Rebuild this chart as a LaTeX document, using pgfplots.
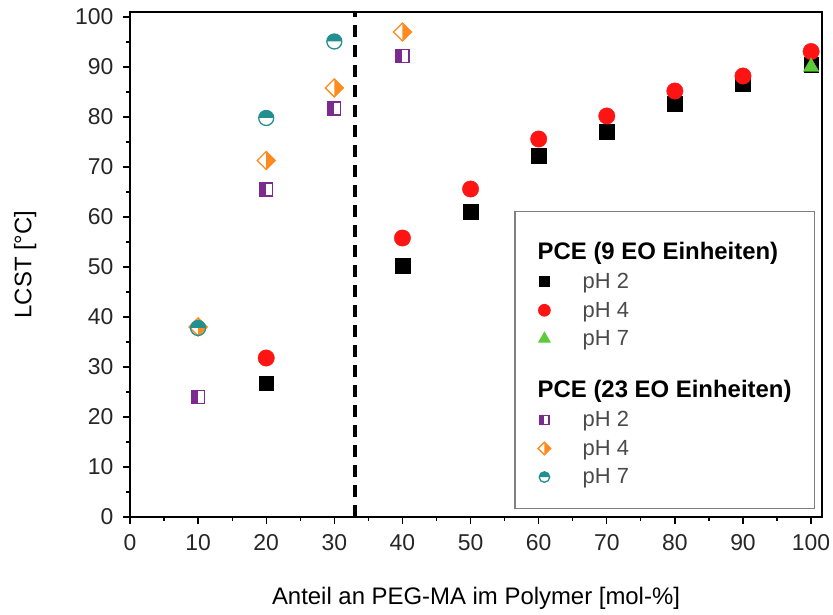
\documentclass[border=0pt]{standalone}
\usepackage{fontspec}
\setmainfont{Liberation Sans}
\usepackage{pgfplots}
\pgfplotsset{compat=1.18}

\definecolor{cpurple}{HTML}{7B2A8E}
\definecolor{corange}{HTML}{FF8A1E}
\definecolor{cteal}{HTML}{23908F}
\definecolor{cgreen}{HTML}{5BCB3A}
\definecolor{cred}{HTML}{FF1414}
\definecolor{legtext}{HTML}{4A4A4A}

% half-filled marks
\pgfdeclareplotmark{halfsquare}{%
  \pgfpathrectangle{\pgfqpoint{-\pgfplotmarksize}{-\pgfplotmarksize}}{\pgfqpoint{\pgfplotmarksize}{2\pgfplotmarksize}}%
  \pgfusepathqfill
  \pgfpathrectangle{\pgfqpoint{-\pgfplotmarksize}{-\pgfplotmarksize}}{\pgfqpoint{2\pgfplotmarksize}{2\pgfplotmarksize}}%
  \pgfusepathqstroke
}
\pgfdeclareplotmark{halfdiamond}{%
  \pgfpathmoveto{\pgfqpoint{0pt}{\pgfplotmarksize}}%
  \pgfpathlineto{\pgfqpoint{\pgfplotmarksize}{0pt}}%
  \pgfpathlineto{\pgfqpoint{0pt}{-\pgfplotmarksize}}%
  \pgfpathclose
  \pgfusepathqfill
  \pgfpathmoveto{\pgfqpoint{0pt}{\pgfplotmarksize}}%
  \pgfpathlineto{\pgfqpoint{\pgfplotmarksize}{0pt}}%
  \pgfpathlineto{\pgfqpoint{0pt}{-\pgfplotmarksize}}%
  \pgfpathlineto{\pgfqpoint{-\pgfplotmarksize}{0pt}}%
  \pgfpathclose
  \pgfusepathqstroke
}
\pgfdeclareplotmark{halfcircle}{%
  \pgfpathmoveto{\pgfqpoint{\pgfplotmarksize}{0pt}}%
  \pgfpatharc{0}{180}{\pgfplotmarksize}%
  \pgfpathclose
  \pgfusepathqfill
  \pgfpathcircle{\pgfpointorigin}{\pgfplotmarksize}%
  \pgfusepathqstroke
}

\begin{document}
\begin{tikzpicture}
\begin{axis}[
  scale only axis,
  width=692bp, height=505bp,
  xmin=0, xmax=101.6, ymin=0, ymax=101,
  xtick={0,10,...,100}, ytick={0,10,...,100},
  minor x tick num=1, minor y tick num=1,
  tick align=outside, tick pos=left,
  major tick length=7bp, minor tick length=4bp,
  every tick/.style={black, line width=1.3bp},
  axis line style={line width=1.3bp},
  /pgf/number format/assume math mode=true,
  ticklabel style={font=\fontsize{23}{26}\selectfont, text=black!85},
  xticklabel style={yshift=-7bp},
  yticklabel style={xshift=-6bp},
  xlabel={Anteil an PEG-MA im Polymer [mol-\%]},
  ylabel={LCST [°C]},
  label style={font=\fontsize{24}{28}\selectfont},
  xlabel style={yshift=-30bp},
  ylabel style={yshift=32bp},
  clip=false,
  legend cell align=left,
  legend style={
    at={(axis description cs:0.99,0.016)}, anchor=south east,
    draw=gray, line width=1.2bp,
    font=\fontsize{22}{25}\selectfont, text=legtext,
    inner xsep=21bp, inner ysep=21bp,
    /tikz/every odd column/.append style={column sep=30bp},
    row sep=8bp,
  },
  legend image post style={/tikz/every mark/.append style={scale=0.7}},
]

% dashed separator
\addplot[black, line width=3.6bp, dash pattern=on 12bp off 8bp, forget plot] coordinates {(33,0) (33,101)};

\addlegendimage{empty legend}
\addlegendentry{\hspace*{-45bp}\textcolor{black}{\fontsize{24}{27}\selectfont\bfseries\rule[-17bp]{0pt}{42bp}PCE (9 EO Einheiten)}}

\addplot[only marks, mark=square*, mark size=7.3bp, black] coordinates {
 (20,26.8) (40,50.3) (50,61.0) (60,72.2) (70,77.1) (80,82.6) (90,86.6) (100,90.4)};
\addlegendentry{pH 2}

\addplot[only marks, mark=*, mark size=8.2bp, cred] coordinates {
 (20,31.8) (40,55.8) (50,65.6) (60,75.6) (70,80.2) (80,85.2) (90,88.2) (100,93.1)};
\addlegendentry{pH 4}

\addplot[only marks, mark=triangle*, mark size=9bp, cgreen] coordinates {
 (100,90.0)};
\addlegendentry{pH 7}

\addlegendimage{empty legend}
\addlegendentry{\rule{0pt}{8bp}}

\addlegendimage{empty legend}
\addlegendentry{\hspace*{-45bp}\textcolor{black}{\fontsize{24}{27}\selectfont\bfseries\rule[-13bp]{0pt}{5bp}PCE (23 EO Einheiten)}}

\addplot[only marks, mark=halfsquare, mark size=6.5bp, mark options={draw=cpurple, fill=cpurple, line width=1.2bp}] coordinates {
 (10,24.0) (20,65.5) (30,81.7) (40,92.2)};
\addlegendentry{pH 2}

\addplot[only marks, mark=halfdiamond, mark size=9bp, mark options={draw=corange, fill=corange, line width=1.3bp}] coordinates {
 (10,38.0) (20,71.3) (30,85.8) (40,97.0)};
\addlegendentry{pH 4}

\addplot[only marks, mark=halfcircle, mark size=7.5bp, mark options={draw=cteal, fill=cteal, line width=1.3bp}] coordinates {
 (10,37.8) (20,79.8) (30,95.1)};
\addlegendentry{pH 7}

\end{axis}
\pgfresetboundingbox
\path ([shift={(-130bp,-98bp)}]current axis.south west) rectangle ([shift={(11bp,12bp)}]current axis.north east);
\end{tikzpicture}
\end{document}
